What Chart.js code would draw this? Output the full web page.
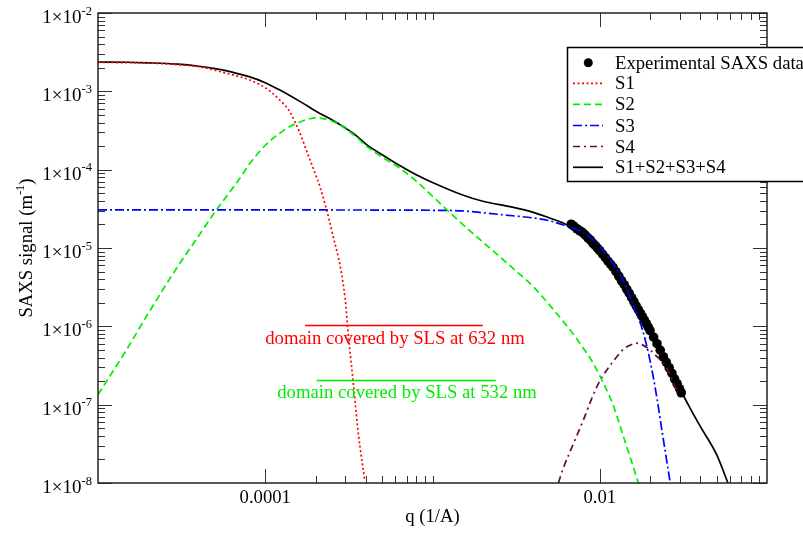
<!DOCTYPE html>
<html>
<head>
<meta charset="utf-8">
<script src="https://cdn.jsdelivr.net/npm/chart.js@4.4.0/dist/chart.umd.min.js"></script>
<style>
  html, body { margin: 0; padding: 0; background: #fff; }
</style>
</head>
<body>
<canvas id="chart" width="803" height="533"></canvas>
<script>
// ----------------------- DATA -----------------------
// experimental SAXS points
const qExp = [6.75e-3, 7.0e-3, 7.3e-3, 7.6e-3, 7.9e-3, 8.2e-3, 8.5e-3, 8.8e-3, 9.1e-3, 9.4e-3, 9.7e-3,
  1.0e-2, 1.04e-2, 1.08e-2, 1.12e-2, 1.16e-2, 1.2e-2, 1.25e-2, 1.3e-2, 1.35e-2, 1.4e-2, 1.45e-2,
  1.5e-2, 1.55e-2, 1.6e-2, 1.65e-2, 1.7e-2, 1.75e-2, 1.8e-2, 1.85e-2, 1.9e-2, 1.95e-2, 2.0e-2,
  2.1e-2, 2.2e-2, 2.3e-2, 2.4e-2, 2.5e-2, 2.6e-2, 2.7e-2, 2.8e-2, 2.9e-2, 3.0e-2, 3.07e-2];
const iExp = [2.01e-5, 1.90e-5, 1.76e-5, 1.66e-5, 1.57e-5, 1.46e-5, 1.35e-5, 1.26e-5, 1.15e-5, 1.07e-5, 9.94e-6,
  9.23e-6, 8.33e-6, 7.52e-6, 6.78e-6, 6.21e-6, 5.69e-6, 4.98e-6, 4.36e-6, 3.82e-6, 3.40e-6, 2.98e-6,
  2.65e-6, 2.32e-6, 2.06e-6, 1.83e-6, 1.63e-6, 1.47e-6, 1.33e-6, 1.20e-6, 1.08e-6, 9.75e-7, 8.79e-7,
  7.26e-7, 6.00e-7, 4.96e-7, 4.09e-7, 3.48e-7, 2.96e-7, 2.52e-7, 2.14e-7, 1.85e-7, 1.60e-7, 1.42e-7];

// S1
const qS1 = [1e-5, 1.5e-5, 2e-5, 3e-5, 4e-5, 5e-5, 6e-5, 7e-5, 8e-5, 1e-4, 1.2e-4, 1.4e-4, 1.6e-4,
  1.8e-4, 2e-4, 2.12e-4, 2.5e-4, 3e-4, 3.13e-4, 3.36e-4, 3.6e-4, 3.94e-4];
const s1 = [2.35e-3, 2.32e-3, 2.30e-3, 2.19e-3, 2.06e-3, 1.86e-3, 1.68e-3, 1.54e-3, 1.41e-3, 1.11e-3, 8.05e-4, 5.50e-4, 3.05e-4,
  1.56e-4, 8.63e-5, 6.11e-5, 1.66e-5, 2.32e-6, 8.29e-7, 1.89e-7, 4.34e-8, 1.05e-8];

// S2
const qS2 = [1e-5, 1.5e-5, 2e-5, 3e-5, 4e-5, 5e-5, 6e-5, 7e-5, 8e-5, 1e-4, 1.2e-4, 1.4e-4, 1.6e-4, 1.8e-4,
  2e-4, 2.5e-4, 3e-4, 3.5e-4, 4e-4, 5e-4, 6e-4, 8e-4, 1e-3, 1.5e-3, 2e-3, 3e-3, 4e-3, 5e-3, 6e-3,
  7e-3, 8e-3, 9e-3, 1e-2, 1.2e-2, 1.4e-2, 1.6e-2, 1.7e-2];
const s2 = [1.34e-7, 5.25e-7, 1.47e-6, 5.82e-6, 1.43e-5, 2.88e-5, 4.86e-5, 7.6e-5, 1.16e-4, 2.05e-4, 2.84e-4, 3.54e-4, 4.04e-4, 4.41e-4,
  4.57e-4, 4.18e-4, 3.36e-4, 2.61e-4, 2.02e-4, 1.44e-4, 1.14e-4, 7.13e-5, 4.58e-5, 2.04e-5, 1.19e-5, 5.60e-6, 3.22e-6, 1.88e-6, 1.18e-6,
  7.77e-7, 5.21e-7, 3.57e-7, 2.34e-7, 1.0e-7, 3.65e-8, 1.52e-8, 1.0e-8];

// S3
const qS3 = [1e-5, 1e-4, 1e-3, 1.5e-3, 2e-3, 3e-3, 4e-3, 5e-3, 6e-3, 7e-3, 8e-3, 9e-3, 1e-2, 1.2e-2,
  1.4e-2, 1.6e-2, 1.8e-2, 2e-2, 2.2e-2, 2.36e-2, 2.5e-2, 2.64e-2];
const s3 = [3.06e-5, 3.06e-5, 3.03e-5, 2.98e-5, 2.82e-5, 2.58e-5, 2.42e-5, 2.23e-5, 1.98e-5, 1.79e-5, 1.55e-5, 1.30e-5, 1.05e-5, 6.30e-6,
  3.64e-6, 1.75e-6, 9.06e-7, 3.62e-7, 1.20e-7, 4.52e-8, 2.08e-8, 1.0e-8];

// S4
const qS4 = [5.66e-3, 6e-3, 7e-3, 8e-3, 9e-3, 1e-2, 1.2e-2, 1.4e-2, 1.6e-2, 1.66e-2, 1.8e-2, 2e-2, 2.2e-2,
  2.5e-2, 2.8e-2, 2.95e-2];
const s4 = [1.0e-8, 1.47e-8, 3.27e-8, 6.43e-8, 1.23e-7, 2.0e-7, 3.54e-7, 5.2e-7, 6.0e-7, 6.1e-7, 5.8e-7, 5.0e-7, 4.1e-7,
  3.0e-7, 1.75e-7, 1.4e-7];

// S1+S2+S3+S4
const qSum = [1e-5, 1.5e-5, 2e-5, 3e-5, 4e-5, 5e-5, 6e-5, 7e-5, 8e-5, 1e-4, 1.2e-4, 1.4e-4, 1.6e-4, 1.8e-4,
  2e-4, 2.5e-4, 3e-4, 3.5e-4, 4e-4, 5e-4, 6e-4, 8e-4, 1e-3, 1.5e-3, 2e-3, 3e-3, 4e-3, 5e-3, 6e-3, 7e-3,
  8e-3, 9e-3, 1e-2, 1.2e-2, 1.4e-2, 1.6e-2, 1.8e-2, 2e-2, 2.2e-2, 2.5e-2, 2.8e-2, 3e-2, 3.5e-2, 4e-2,
  5e-2, 5.84e-2];
const sumCurve = [2.37e-3, 2.35e-3, 2.31e-3, 2.22e-3, 2.09e-3, 1.95e-3, 1.81e-3, 1.66e-3, 1.54e-3, 1.29e-3, 1.06e-3, 8.85e-4, 7.5e-4, 6.45e-4,
  5.6e-4, 4.35e-4, 3.42e-4, 2.72e-4, 2.12e-4, 1.55e-4, 1.22e-4, 8.63e-5, 6.87e-5, 4.79e-5, 3.95e-5, 3.32e-5, 2.85e-5, 2.42e-5, 2.10e-5, 1.75e-5,
  1.49e-5, 1.21e-5, 9.62e-6, 5.84e-6, 3.51e-6, 2.10e-6, 1.34e-6, 8.89e-7, 6.05e-7, 3.52e-7, 2.17e-7, 1.62e-7, 8.73e-8, 5.24e-8,
  2.30e-8, 1.0e-8];

// axis ticks
const xMajorTicks = [1e-4, 1e-2];
const xTickLabels = ["0.0001", "0.01"];
const xMinorTicks = [2e-4, 3e-4, 4e-4, 5e-4, 6e-4, 7e-4, 8e-4, 9e-4, 1e-3,
  2e-2, 3e-2, 4e-2, 5e-2, 6e-2, 7e-2, 8e-2, 9e-2];
const yExponents = [-2, -3, -4, -5, -6, -7, -8];

// ----------------------- UTIL -----------------------
const FONT = '"Liberation Serif", "Times New Roman", serif';

function pts(qs, vals) {
  return qs.map((q, i) => ({ x: q, y: vals[i] }));
}

const series = [
  { label: "S1", color: "#ff0000", dash: [2, 2.5] },
  { label: "S2", color: "#00ee00", dash: [7, 4] },
  { label: "S3", color: "#0000ff", dash: [9, 3, 2, 3] },
  { label: "S4", color: "#670748", dash: [7, 4, 2, 4] },
  { label: "S1+S2+S3+S4", color: "#000000", dash: [] },
];

// SLS annotations: [qStart, qEnd, level, text, qText, textLevel, color]
const slsDomains = [
  [1.73e-4, 2.0e-3, 1.03e-6, "domain covered by SLS at 632 nm", 1.0e-4, 5.94e-7, "#ff0000"],
  [2.03e-4, 2.39e-3, 2.04e-7, "domain covered by SLS at 532 nm", 1.18e-4, 1.2e-7, "#00ee00"],
];

// plugin: frame, inward ticks, labels, legend, annotations
const grace = {
  id: "grace",
  afterDraw(chart) {
    const {
      ctx,
      chartArea: { top, bottom, left, right },
      scales: { x, y },
    } = chart;
    ctx.save();

    // annotations
    slsDomains.forEach((d) => {
      ctx.strokeStyle = d[6];
      ctx.lineWidth = 1.6;
      ctx.beginPath();
      const ly = Math.round(y.getPixelForValue(d[2])) + 0.5;
      ctx.moveTo(x.getPixelForValue(d[0]), ly);
      ctx.lineTo(x.getPixelForValue(d[1]), ly);
      ctx.stroke();
      ctx.fillStyle = d[6];
      ctx.font = "18.7px " + FONT;
      ctx.textAlign = "left";
      ctx.textBaseline = "alphabetic";
      ctx.fillText(d[3], x.getPixelForValue(d[4]), y.getPixelForValue(d[5]));
    });

    // ticks
    ctx.strokeStyle = "#333";
    ctx.lineWidth = 1;
    function seg(x1, y1, x2, y2) {
      ctx.beginPath();
      ctx.moveTo(x1, y1);
      ctx.lineTo(x2, y2);
      ctx.stroke();
    }
    xMajorTicks.forEach((v) => {
      const px = Math.round(x.getPixelForValue(v)) + 0.5;
      seg(px, bottom, px, bottom - 14);
      seg(px, top, px, top + 14);
    });
    xMinorTicks.forEach((v) => {
      const px = Math.round(x.getPixelForValue(v)) + 0.5;
      seg(px, bottom, px, bottom - 7);
      seg(px, top, px, top + 7);
    });
    yExponents.forEach((e) => {
      const py = Math.round(y.getPixelForValue(Math.pow(10, e))) + 0.5;
      seg(left, py, left + 14, py);
      seg(right, py, right - 14, py);
      if (e > -8) {
        for (let k = 2; k <= 9; k++) {
          const my = Math.round(y.getPixelForValue(k * Math.pow(10, e - 1))) + 0.5;
          seg(left, my, left + 7, my);
          seg(right, my, right - 7, my);
        }
      }
    });

    // frame
    ctx.strokeStyle = "#222";
    ctx.lineWidth = 1.5;
    ctx.strokeRect(left, top, right - left, bottom - top);

    // tick labels
    ctx.fillStyle = "#000";
    ctx.font = "18.7px " + FONT;
    ctx.textAlign = "center";
    ctx.textBaseline = "alphabetic";
    xMajorTicks.forEach((v, i) => {
      ctx.fillText(xTickLabels[i], x.getPixelForValue(v), bottom + 20);
    });
    yExponents.forEach((e) => {
      const py = y.getPixelForValue(Math.pow(10, e));
      const sup = String(e);
      ctx.font = "12.5px " + FONT;
      const supW = ctx.measureText(sup).width;
      ctx.textAlign = "right";
      ctx.fillText(sup, 92, py + 1.5);
      ctx.font = "19px " + FONT;
      ctx.fillText("1\u00d710", 92 - supW, py + 10);
    });

    // axis titles
    ctx.font = "18.7px " + FONT;
    ctx.textAlign = "center";
    ctx.fillText("q (1/A)", (left + right) / 2, bottom + 39);

    ctx.save();
    ctx.translate(32, (top + bottom) / 2);
    ctx.rotate(-Math.PI / 2);
    const t1 = "SAXS signal (m";
    ctx.font = "18.7px " + FONT;
    const w1 = ctx.measureText(t1).width;
    const w3 = ctx.measureText(")").width;
    ctx.font = "12.5px " + FONT;
    const w2 = ctx.measureText("-1").width;
    const x0 = -(w1 + w2 + w3) / 2;
    ctx.textAlign = "left";
    ctx.font = "18.7px " + FONT;
    ctx.fillText(t1, x0, 0);
    ctx.fillText(")", x0 + w1 + w2, 0);
    ctx.font = "12.5px " + FONT;
    ctx.fillText("-1", x0 + w1, -8.5);
    ctx.restore();

    // legend
    const lx = 567.5, ly = 47.5;
    ctx.fillStyle = "#fff";
    ctx.fillRect(lx, ly, 260, 134);
    ctx.strokeStyle = "#000";
    ctx.lineWidth = 1.5;
    ctx.strokeRect(lx, ly, 260, 134);
    const rows = [62.7, 83.3, 104.3, 125.5, 146.5, 167.3];
    ctx.fillStyle = "#000";
    ctx.beginPath();
    ctx.arc(588.3, rows[0], 4.5, 0, Math.PI * 2);
    ctx.fill();
    ctx.font = "18.7px " + FONT;
    ctx.textAlign = "left";
    ctx.fillText("Experimental SAXS data", 615, rows[0] + 6);
    series.forEach((s, i) => {
      const ry = rows[i + 1];
      ctx.strokeStyle = s.color;
      ctx.lineWidth = 1.7;
      ctx.setLineDash(s.dash);
      ctx.beginPath();
      ctx.moveTo(573, ry);
      ctx.lineTo(603, ry);
      ctx.stroke();
      ctx.setLineDash([]);
      ctx.fillStyle = "#000";
      ctx.fillText(s.label, 615, ry + 6);
    });

    ctx.restore();
  },
};

// ----------------------- BUILD CHART -----------------------
const curveData = [pts(qS1, s1), pts(qS2, s2), pts(qS3, s3), pts(qS4, s4), pts(qSum, sumCurve)];

const datasets = series.map((s, i) => ({
  label: s.label,
  data: curveData[i],
  showLine: true,
  borderColor: s.color,
  borderWidth: 1.7,
  borderDash: s.dash,
  pointRadius: 0,
  cubicInterpolationMode: "monotone",
  fill: false,
}));
datasets.push({
  label: "Experimental SAXS data",
  data: pts(qExp, iExp),
  showLine: false,
  pointRadius: 4.8,
  pointBackgroundColor: "#000",
  pointBorderColor: "#000",
  pointBorderWidth: 0,
});

new Chart(document.getElementById("chart"), {
  type: "scatter",
  data: { datasets: datasets },
  options: {
    responsive: false,
    animation: false,
    devicePixelRatio: 1,
    layout: { padding: { left: 98, right: 36, top: 13, bottom: 50 } },
    plugins: { legend: { display: false }, tooltip: { enabled: false } },
    scales: {
      x: { type: "logarithmic", min: 1e-5, max: 0.1, display: false },
      y: { type: "logarithmic", min: 1e-8, max: 1e-2, display: false },
    },
  },
  plugins: [grace],
});
</script>
</body>
</html>
